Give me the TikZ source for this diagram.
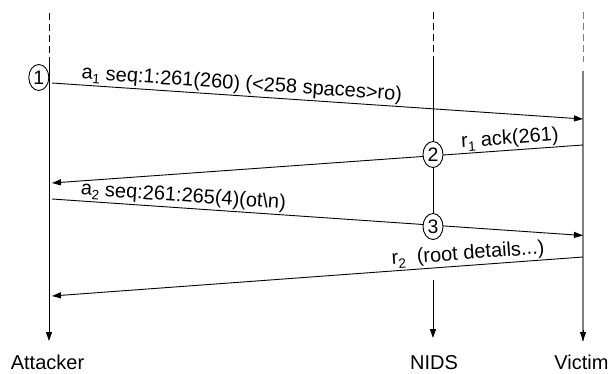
\documentclass[tikz,border=0pt]{standalone}
\usepackage{fontspec}
\setmainfont{Liberation Sans}
\usetikzlibrary{arrows.meta,shapes.geometric}
\newcommand\lowsub[1]{\raisebox{-0.4ex}{\fontsize{13.5}{13.5}\selectfont #1}}

\begin{document}
\begin{tikzpicture}[x=1pt,y=-1pt,
  tip/.style={-{Triangle[length=9pt,width=6pt]}},
  life/.style={line width=0.9pt},
  victimlife/.style={line width=1.8pt, draw=gray},
  dashedtop/.style={line width=0.9pt, dash pattern=on 7pt off 4pt},
  msg/.style={line width=0.9pt},
  lbl/.style={font=\fontsize{20}{24}\selectfont, inner sep=1.5pt, sloped, anchor=south},
  stepmark/.style={ellipse, draw, fill=white, line width=0.9pt, minimum width=20pt,
    minimum height=26pt, inner sep=0pt, font=\fontsize{19.5}{23}\selectfont},
  party/.style={font=\fontsize{20}{24}\selectfont, anchor=base, inner sep=0pt}
]
\useasboundingbox (0,0) rectangle (608,373);

% lifeline anchor points
\coordinate (Atop) at (49,13);
\coordinate (Amid) at (49,62);
\coordinate (Abot) at (49,341);
\coordinate (Ntop) at (433,12);
\coordinate (Nmid) at (433,61);
\coordinate (Nlow) at (433,280);
\coordinate (Nbot) at (433,338);
\coordinate (Vtop) at (583,12);
\coordinate (Vdash) at (583,62);
\coordinate (Vmid) at (583,71);
\coordinate (Vbot) at (583,341);

% message end points
\coordinate (a1s) at (52,83);
\coordinate (a1e) at (583,119);
\coordinate (r1s) at (583,145);
\coordinate (r1e) at (52,183);
\coordinate (a2s) at (52,199);
\coordinate (a2e) at (583,235.5);
\coordinate (r2s) at (583,257);
\coordinate (r2e) at (52,296);

% lifelines
\draw[dashedtop] (Atop) -- (Amid);
\draw[life, tip] (Amid) -- (Abot);
\draw[dashedtop] (Ntop) -- (Nmid);
\draw[life] (Nmid) -- (433,226.5);
\draw[life, tip] (Nlow) -- (Nbot);
\draw[dashedtop, draw=gray] (Vtop) -- (Vdash);
\draw[victimlife] (Vmid) -- (Vbot);
\draw[life, tip] (583,330) -- (Vbot);

% messages
\draw[msg, tip] (a1s) -- (a1e)
  node[lbl, pos=0.356] {a\lowsub{1} seq:1:261(260) (<258 spaces>ro)};
\draw[msg, {Triangle[length=9pt,width=6pt]}-] (r1e) -- (r1s)
  node[lbl, pos=0.864] {r\lowsub{1} ack(261)};
\draw[msg, tip] (a2s) -- (a2e)
  node[lbl, pos=0.246] {a\lowsub{2} seq:261:265(4)(ot\textbackslash n)};
\draw[msg, {Triangle[length=9pt,width=6pt]}-] (r2e) -- (r2s)
  node[lbl, pos=0.785] {r\lowsub{2}\ \ (root details...)};

% numbered observation points
\node[stepmark] (n1) at (38.8,77.5) {1};
\node[stepmark] (n2) at (433,154.5) {2};
\node[stepmark] (n3) at (433,226.5) {3};

% participants
\node[party] (att) at (47.5,369) {Attacker};
\node[party] (nids) at (434,369) {NIDS};
\node[party] (vic) at (581.5,369) {Victim};
\end{tikzpicture}
\end{document}
